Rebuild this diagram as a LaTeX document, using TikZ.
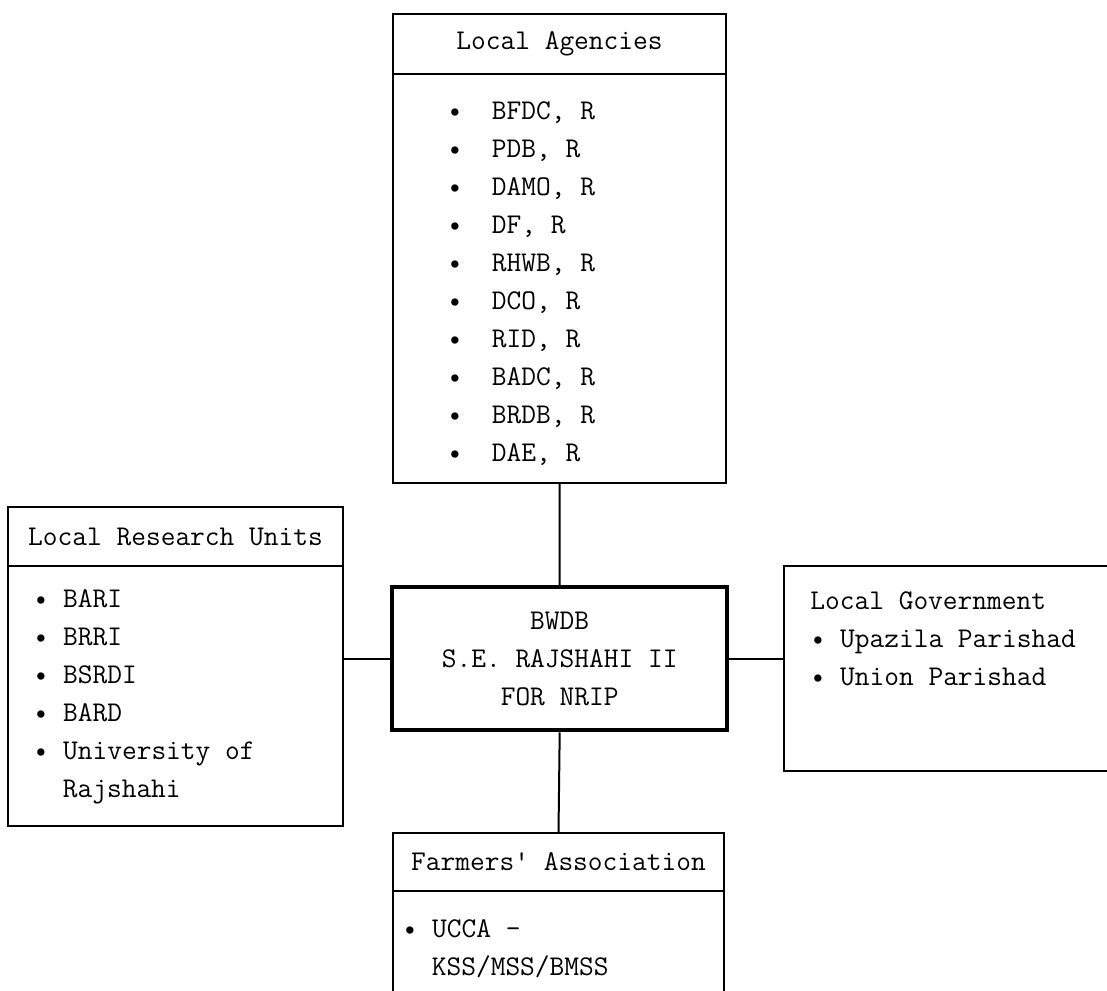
\documentclass[tikz,border=0pt]{standalone}
\usepackage{fontspec}
\usepackage{tikz}

% list dot, one character cell wide
\newcommand\bul{\makebox[0.525em]{\textbullet}}

\begin{document}
\frenchspacing
\begin{tikzpicture}[x=0.5pt,y=-0.5pt,
  font=\ttfamily\fontsize{14.3}{19}\selectfont,
  head_box/.style={rectangle,draw,line width=1pt,inner sep=0pt,anchor=north west},
  list_box/.style={rectangle,draw,line width=1pt,inner sep=0pt,anchor=north west},
  main_box/.style={rectangle,draw,line width=2.2pt,inner sep=0pt,anchor=north west,align=center},
  item_text/.style={anchor=north west,align=left,inner sep=0pt},
  link/.style={line width=1pt}]

  \useasboundingbox (0,0) rectangle (1107,990);
  \clip (0,0) rectangle (1107,990);

  % agencies on top
  \node[head_box,minimum width=166.5pt,minimum height=30pt] (agen_head) at (392,13) {Local Agencies};
  \node[list_box,minimum width=166.5pt,minimum height=204.5pt] (agen_list) at (392,73) {};
  \node[item_text] (agen_items) at (447,101) {%
    \bul~~BFDC, R\\ \bul~~PDB, R\\ \bul~~DAMO, R\\ \bul~~DF, R\\ \bul~~RHWB, R\\
    \bul~~DCO, R\\ \bul~~RID, R\\ \bul~~BADC, R\\ \bul~~BRDB, R\\ \bul~~DAE, R};

  % research units, left
  \node[head_box,minimum width=167.5pt,minimum height=29.5pt] (resu_head) at (7,506) {Local Research Units};
  \node[list_box,minimum width=167.5pt,minimum height=130pt] (resu_list) at (7,565) {};
  \node[item_text] (resu_items) at (33,589) {%
    \bul~BARI\\ \bul~BRRI\\ \bul~BSRDI\\ \bul~BARD\\ \bul~University of\\ ~~Rajshahi};

  % the centre
  \node[main_box,minimum width=167.5pt,minimum height=71.5pt] (bwdb) at (390,585)
    {BWDB\\ S.E. RAJSHAHI II\\ FOR NRIP};

  % local government, right
  \node[list_box,minimum width=175pt,minimum height=102.5pt] (govt) at (783,565) {};
  \node[item_text] (govt_items) at (810,591) {%
    Local Government\\ \bul~Upazila Parishad\\ \bul~Union Parishad};

  % farmers, bottom
  \node[head_box,minimum width=165.5pt,minimum height=29pt] (farm_head) at (392,832) {Farmers\textquotesingle{} Association};
  \node[list_box,minimum width=165.5pt,minimum height=60pt] (farm_list) at (392,890) {};
  \node[item_text] (farm_items) at (402,919) {%
    \bul~UCCA \textemdash\\ ~~KSS/MSS/BMSS};

  \draw[link] (agen_list.south) -- (bwdb.north);
  \draw[link] (bwdb.west) -- (bwdb.west -| resu_list.east);
  \draw[link] (bwdb.east) -- (bwdb.east -| govt.west);
  \draw[link] (bwdb.south) -- (farm_head.north);
\end{tikzpicture}
\end{document}
